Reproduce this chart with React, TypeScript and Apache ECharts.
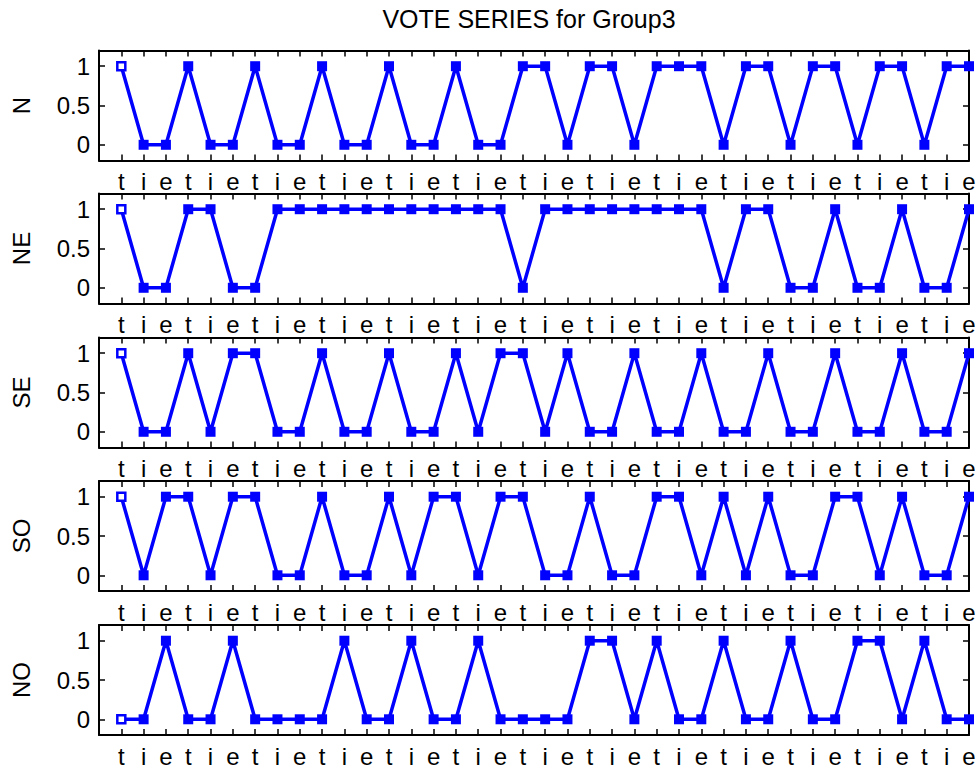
import React, { useEffect, useRef } from 'react';
import * as echarts from 'echarts';

const TITLE = 'VOTE SERIES for Group3';
const TICK_LABELS = [
  't', 'i', 'e', 't', 'i', 'e', 't', 'i', 'e', 't', 'i', 'e', 't',
  'i', 'e', 't', 'i', 'e', 't', 'i', 'e', 't', 'i', 'e', 't', 'i',
  'e', 't', 'i', 'e', 't', 'i', 'e', 't', 'i', 'e', 't', 'i', 'e',
];
const PANEL_NAMES = ['N', 'NE', 'SE', 'SO', 'NO'];

const N_VALUES = [1, 0, 0, 1, 0, 0, 1, 0, 0, 1, 0, 0, 1, 0, 0, 1, 0, 0, 1, 1, 0, 1, 1, 0, 1, 1, 1, 0, 1, 1, 0, 1, 1, 0, 1, 1, 0, 1, 1];
const NE_VALUES = [1, 0, 0, 1, 1, 0, 0, 1, 1, 1, 1, 1, 1, 1, 1, 1, 1, 1, 0, 1, 1, 1, 1, 1, 1, 1, 1, 0, 1, 1, 0, 0, 1, 0, 0, 1, 0, 0, 1];
const SE_VALUES = [1, 0, 0, 1, 0, 1, 1, 0, 0, 1, 0, 0, 1, 0, 0, 1, 0, 1, 1, 0, 1, 0, 0, 1, 0, 0, 1, 0, 0, 1, 0, 0, 1, 0, 0, 1, 0, 0, 1];
const SO_VALUES = [1, 0, 1, 1, 0, 1, 1, 0, 0, 1, 0, 0, 1, 0, 1, 1, 0, 1, 1, 0, 0, 1, 0, 0, 1, 1, 0, 1, 0, 1, 0, 0, 1, 1, 0, 1, 0, 0, 1];
const NO_VALUES = [0, 0, 1, 0, 0, 1, 0, 0, 0, 0, 1, 0, 0, 1, 0, 0, 1, 0, 0, 0, 0, 1, 1, 0, 1, 0, 0, 1, 0, 0, 1, 0, 0, 1, 1, 0, 1, 0, 0];
const PANEL_VALUES = [N_VALUES, NE_VALUES, SE_VALUES, SO_VALUES, NO_VALUES];

const Y_TICKS = [0, 0.5, 1];

const FONT = '"Liberation Sans", Arial, Helvetica, sans-serif';
const BLUE = '#0000ff';
const PANEL_TOPS = [50.5, 193.5, 337.5, 481, 625];
const PANEL_HEIGHT = 110;

export default function App() {
  const ref = useRef<HTMLDivElement>(null);

  useEffect(() => {
    const chart = echarts.init(ref.current!, null, { renderer: 'svg' });
    const xPos = TICK_LABELS.map((_, i) => i + 1);

    const grids: any[] = [];
    const xAxes: any[] = [];
    const yAxes: any[] = [];
    const series: any[] = [];

    const lineStyle = { color: '#000', width: 2 };
    const tickStyle = { color: '#000', width: 1.5 };

    PANEL_NAMES.forEach((name, k) => {
      grids.push({
        left: 99,
        width: 870,
        top: PANEL_TOPS[k],
        height: PANEL_HEIGHT,
        containLabel: false,
        outerBoundsMode: 'none',
      });
      const xBase = {
        type: 'value',
        gridIndex: k,
        min: 0,
        max: 39,
        splitLine: { show: false },
        axisLine: { show: true, onZero: false, lineStyle },
        axisTick: { show: true, inside: true, length: 6, customValues: xPos, lineStyle: tickStyle },
      };
      xAxes.push({
        ...xBase,
        position: 'bottom',
        axisLabel: {
          show: true,
          customValues: xPos,
          formatter: (v: number) => TICK_LABELS[Math.round(v) - 1] ?? '',
          margin: 9,
          color: '#000',
          fontSize: 24,
          fontFamily: FONT,
          showMinLabel: true,
          showMaxLabel: true,
        },
      });
      xAxes.push({
        ...xBase,
        position: 'top',
        axisLabel: { show: false },
      });
      const yBase = {
        type: 'value',
        gridIndex: k,
        min: -0.2,
        max: 1.2,
        splitLine: { show: false },
        axisLine: { show: true, onZero: false, lineStyle },
        axisTick: { show: true, inside: true, length: 6, customValues: Y_TICKS, lineStyle: tickStyle },
      };
      yAxes.push({
        ...yBase,
        position: 'left',
        name,
        nameLocation: 'middle',
        nameRotate: 90,
        nameGap: 66,
        nameTextStyle: { fontSize: 24, color: '#000', fontFamily: FONT },
        axisLabel: {
          show: true,
          customValues: Y_TICKS,
          formatter: (v: number) => String(v),
          margin: 9,
          color: '#000',
          fontSize: 24,
          fontFamily: FONT,
        },
      });
      yAxes.push({
        ...yBase,
        position: 'right',
        axisLabel: { show: false },
      });
      series.push({
        type: 'line',
        xAxisIndex: 2 * k,
        yAxisIndex: 2 * k,
        data: PANEL_VALUES[k].map((v, i) =>
          i === 0
            ? {
                value: [i + 1, v],
                symbolSize: 8,
                itemStyle: { color: '#fff', borderColor: BLUE, borderWidth: 2.5 },
              }
            : [i + 1, v]
        ),
        symbol: 'rect',
        symbolSize: 10,
        lineStyle: { color: BLUE, width: 3.5 },
        itemStyle: { color: BLUE },
        clip: false,
        silent: true,
        z: 5,
      });
    });

    chart.setOption({
      animation: false,
      backgroundColor: '#fff',
      grid: grids,
      xAxis: xAxes,
      yAxis: yAxes,
      series,
      graphic: [
        {
          type: 'text',
          x: 529,
          y: 19,
          style: {
            text: TITLE,
            fontSize: 25,
            fontFamily: FONT,
            fill: '#000',
            align: 'center',
            verticalAlign: 'middle',
            textAlign: 'center',
            textVerticalAlign: 'middle',
          },
        },
      ],
    });

    return () => chart.dispose();
  }, []);

  return (
    <div
      ref={ref}
      style={{ position: 'fixed', left: 0, top: 0, width: 978, height: 774, background: '#fff' }}
    />
  );
}
